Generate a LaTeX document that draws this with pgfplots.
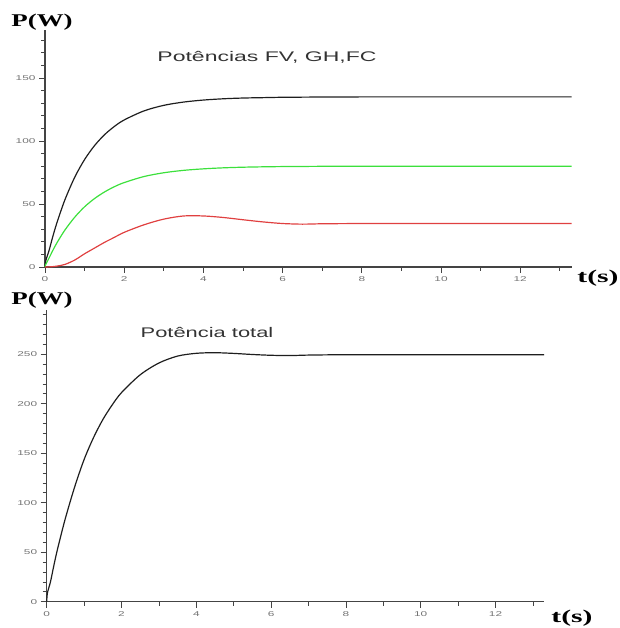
\documentclass[border=0pt]{standalone}
\usepackage{pgfplots}
\pgfplotsset{compat=1.18}
\usepackage{pgfplotstable}
\usepackage{fontspec}
\usepackage{graphicx}
\setmainfont{Liberation Serif}
\newfontfamily\arial{Liberation Sans}

\definecolor{cblack}{HTML}{1E1E1E}
\definecolor{cgreen}{HTML}{3CE03C}
\definecolor{cred}{HTML}{E04040}
\definecolor{axgray}{HTML}{444444}

\pgfplotstableread{
t     black  green  red   total
0     0      0      0     0
0.02  5.0    2.0    0.0   9.0
0.1   12.85  6.95   0.1   19.9
0.2   24.5   13.3   0.3   38.1
0.3   35.0   19.1   0.7   54.8
0.5   53.1   29.2   2.0   84.3
0.75  71.2   39.5   5.5   116.2
1     85.3   47.8   10.5  143.6
1.25  96.3   54.3   15.0  165.6
1.5   104.9  59.5   19.5  183.9
1.75  111.5  63.7   23.5  198.7
2     116.7  67.0   27.5  211.2
2.5   123.9  71.8   33.5  229.2
3     128.3  74.8   38.0  241.1
3.5   130.9  76.7   40.5  248.1
4     132.5  77.9   40.5  250.9
4.5   133.5  78.7   39.3  251.5
5     134.1  79.2   37.5  250.8
5.5   134.4  79.5   35.8  249.7
6     134.7  79.7   34.5  248.9
6.5   134.8  79.8   34.0  248.6
7     134.9  79.9   34.3  249.1
8     135.0  80.0   34.5  249.5
9     135.0  80.0   34.5  249.5
10    135.0  80.0   34.5  249.5
11    135.0  80.0   34.5  249.5
12    135.0  80.0   34.5  249.5
13.3  135.0  80.0   34.5  249.5
}\data

\pgfplotsset{
  mystyle/.style={
    anchor=origin,
    axis lines=left,
    axis line style={-, draw=axgray, line width=1.1pt},
    xmin=0, xmax=13.3, ymin=0,
    xtick={0,2,...,12}, minor xtick={1,3,...,13},
    tick align=outside,
    major tick length=6bp, minor tick length=4bp,
    every tick/.style={axgray, line width=0.7pt},
    minor tick style={axgray, line width=0.7pt},
    /pgf/number format/assume math mode=true,
    xticklabel={\scalebox{1.7}[1]{\pgfmathprintnumber{\tick}}},
    yticklabel={\scalebox{1.7}[1]{\pgfmathprintnumber{\tick}}},
    tick label style={font=\arial\fontsize{7}{7}\selectfont, text=black!55},
    clip=false,
  }
}

\begin{document}
\begin{tikzpicture}
\useasboundingbox (0,0) rectangle (620bp,628bp);
\begin{axis}[mystyle, at={(45bp,361bp)}, x=39.6bp, y=1.26bp, ymax=188,
  ytick={0,50,100,150}, minor ytick={10,20,30,40,60,70,80,90,110,120,130,140,160,170,180}]
\addplot[cblack, line width=1.2pt, smooth] table[x=t, y=black] {\data};
\addplot[cgreen, line width=1.2pt, smooth] table[x=t, y=green] {\data};
\addplot[cred, line width=1.2pt, smooth] table[x=t, y=red] {\data};
\end{axis}
\begin{axis}[mystyle, at={(46.7bp,26.3bp)}, x=37.4bp, y=0.99bp, ymax=295,
  ytick={0,50,100,150,200,250}, minor ytick={10,20,...,290}]
\addplot[cblack, line width=1.2pt, smooth] table[x=t, y=total] {\data};
\end{axis}
\node[font=\bfseries\fontsize{18}{18}\selectfont] at (42bp,606bp) {\scalebox{1.5}[1]{P(W)}};
\node[font=\bfseries\fontsize{18}{18}\selectfont] at (42bp,328bp) {\scalebox{1.5}[1]{P(W)}};
\node[font=\bfseries\fontsize{18}{18}\selectfont] at (598bp,350bp) {\scalebox{1.65}[1]{t(s)}};
\node[font=\bfseries\fontsize{18}{18}\selectfont] at (572bp,10bp) {\scalebox{1.65}[1]{t(s)}};
\node[font=\arial\fontsize{14}{14}\selectfont, text=black!80] at (267bp,571bp) {\scalebox{1.65}[1]{Potências FV, GH,FC}};
\node[font=\arial\fontsize{14}{14}\selectfont, text=black!80] at (207bp,296bp) {\scalebox{1.57}[1]{Potência total}};
\end{tikzpicture}
\end{document}
